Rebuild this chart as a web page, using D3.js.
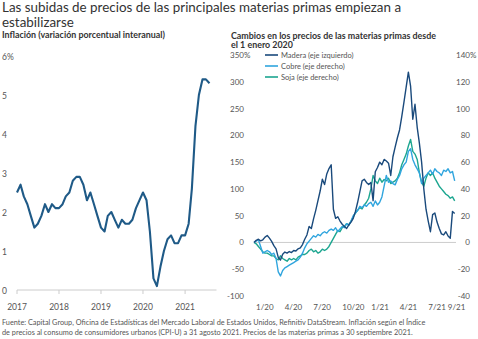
<!DOCTYPE html>
<html>
<head>
<meta charset="utf-8">
<script src="https://cdn.jsdelivr.net/npm/d3@7/dist/d3.min.js"></script>
<style>
    body { margin: 0; background: #fff; }
    svg { display: block; font-family: Lato, "Open Sans", sans-serif; }
</style>
</head>
<body>
<svg id="canvas" width="478" height="339"></svg>
<script>
// US CPI-U, year-over-year %, monthly from Jan 2017
var inflationStart = new Date(2017, 0, 1);
var inflation = [
    2.5, 2.7, 2.4, 2.2, 1.9, 1.6, 1.7, 1.9, 2.2, 2.0, 2.2, 2.1,
    2.1, 2.2, 2.4, 2.5, 2.8, 2.9, 2.9, 2.7, 2.3, 2.5, 2.2, 1.9,
    1.6, 1.5, 1.9, 2.0, 1.8, 1.6, 1.8, 1.7, 1.7, 1.8, 2.1, 2.3,
    2.5, 2.3, 1.5, 0.3, 0.1, 0.6, 1.0, 1.3, 1.4, 1.2, 1.2, 1.4,
    1.4, 1.7, 2.6, 4.2, 5.0, 5.4, 5.4, 5.3
];
var inflationTicks = [0, 1, 2, 3, 4, 5, 6];
var inflationYears = [2017, 2018, 2019, 2020, 2021];

// commodity price change since 1 Jan 2020, %, weekly
var weekStart = new Date(2020, 0, 1);
var madera = [
    0, 4, 6, 3, 5, 10, 13, 8, 2, -6, -12, -28, -33,
    -22, -18, -20, -17, -19, -15, -16, -12, -10, -4, 6, 14, 30,
    26, 44, 60, 78, 96, 118, 108, 128, 138, 145, 62, 45, 48,
    40, 34, 30, 26, 33, 38, 45, 58, 75, 95, 115, 118, 112,
    108, 112, 78, 132, 140, 150, 145, 155, 152, 148, 125, 160, 178,
    195, 210, 235, 262, 290, 318, 292, 230, 258, 215, 185, 150, 100,
    62, 40, 20, 52, 55, 38, 26, 16, 14, 20, 12, 8, 58, 54
];
var cobre = [
    0, 1, 2, -3, -8, -7, -6, -7, -9, -8, -12, -22, -25,
    -21, -19, -18, -17, -16, -15, -14, -13, -11, -8, -4, -1, 1,
    3, 5, 4, 6, 5, 7, 8, 7, 9, 10, 9, 11, 8,
    10, 12, 11, 14, 13, 16, 20, 22, 24, 27, 26, 28, 27,
    29, 30, 27, 31, 28, 30, 34, 42, 50, 45, 46, 44, 43,
    47, 50, 55, 58, 60, 68, 70, 62, 58, 55, 52, 44, 48,
    50, 52, 54, 51, 55, 53, 52, 50, 54, 53, 55, 52, 53, 46
];
var soja = [
    0, -1, -3, -5, -7, -8, -8, -9, -10, -10, -12, -13, -10,
    -12, -13, -14, -12, -13, -12, -13, -11, -10, -9, -9, -8, -6,
    -5, -7, -6, -8, -7, -5, -6, -5, -3, 0, 3, 6, 9,
    8, 11, 12, 14, 13, 16, 19, 22, 24, 26, 25, 28, 30,
    33, 40, 50, 46, 44, 48, 45, 47, 46, 48, 44, 45, 46,
    48, 52, 58, 62, 66, 72, 77, 68, 66, 62, 52, 45, 42,
    48, 52, 50, 52, 48, 45, 42, 40, 38, 36, 35, 33, 34, 31
];
var seriesNames = ['Madera (eje izquierdo)', 'Cobre (eje derecho)', 'Soja (eje derecho)'];
var leftTicks = [-100, -50, 0, 50, 100, 150, 200, 250, 300, 350];
var rightTicks = [-40, -20, 0, 20, 40, 60, 80, 100, 120, 140];
var monthTicks = [[2020, 0], [2020, 3], [2020, 6], [2020, 9], [2021, 0], [2021, 3], [2021, 6], [2021, 8]];
var monthLabels = ['1/20', '4/20', '7/20', '10/20', '1/21', '4/21', '7/21', '9/21'];

var colors = ['#1a4a7c', '#30a5de', '#1ca690'];
var textColor = '#333';
var axisColor = '#555';

var canvas = d3.select('#canvas');

function drawTitles() {
    var t = canvas.append('g').attr('fill', textColor);
    t.append('text').attr('x', 2).attr('y', 12).attr('font-size', 13.4)
        .text('Las subidas de precios de las principales materias primas empiezan a');
    t.append('text').attr('x', 2).attr('y', 27).attr('font-size', 13.4)
        .text('estabilizarse');
    t.append('text').attr('x', 2).attr('y', 37.5).attr('font-size', 8.9).attr('font-weight', 700)
        .text('Inflación (variación porcentual interanual)');
    t.append('text').attr('x', 231).attr('y', 38.5).attr('font-size', 8.9).attr('font-weight', 700)
        .text('Cambios en los precios de las materias primas desde');
    t.append('text').attr('x', 231).attr('y', 48).attr('font-size', 8.9).attr('font-weight', 700)
        .text('el 1 enero 2020');

    var foot = canvas.append('g').attr('fill', '#555').attr('font-size', 7.3);
    foot.append('text').attr('x', 2).attr('y', 325)
        .text('Fuente: Capital Group, Oficina de Estadísticas del Mercado Laboral de Estados Unidos, Refinitiv DataStream. Inflación según el Índice');
    foot.append('text').attr('x', 2).attr('y', 335)
        .text('de precios al consumo de consumidores urbanos (CPI-U) a 31 agosto 2021. Precios de las materias primas a 30 septiembre 2021.');
}

function drawInflation() {
    var x = d3.scaleTime()
        .domain([new Date(2017, 0, 1), new Date(2021, 9, 1)])
        .range([17, 216.5]);
    var y = d3.scaleLinear().domain([0, 6]).range([290, 56]);

    var g = canvas.append('g');

    g.append('line')
        .attr('x1', x.range()[0]).attr('x2', x.range()[1])
        .attr('y1', y(0)).attr('y2', y(0))
        .attr('stroke', '#ccc').attr('stroke-width', 1);

    g.selectAll('.tick')
        .data(inflationYears)
        .enter()
        .append('line')
        .attr('x1', function(d) { return x(new Date(d, 0, 1)); })
        .attr('x2', function(d) { return x(new Date(d, 0, 1)); })
        .attr('y1', y(0)).attr('y2', y(0) + 4)
        .attr('stroke', '#ccc');

    g.selectAll('.year')
        .data(inflationYears)
        .enter()
        .append('text')
        .attr('x', function(d) { return x(new Date(d, 0, 1)); })
        .attr('y', 310)
        .attr('text-anchor', 'middle')
        .attr('font-size', 8.5)
        .attr('fill', axisColor)
        .text(function(d) { return d; });

    g.selectAll('.ylab')
        .data(inflationTicks)
        .enter()
        .append('text')
        .attr('x', 2)
        .attr('y', function(d) { return y(d) + 4; })
        .attr('font-size', 8.5)
        .attr('fill', axisColor)
        .text(function(d, i) { return i === inflationTicks.length - 1 ? d + '%' : d; });

    var line = d3.line()
        .x(function(d, i) { return x(d3.timeMonth.offset(inflationStart, i)); })
        .y(function(d) { return y(d); });

    g.append('path')
        .datum(inflation)
        .attr('d', line)
        .attr('fill', 'none')
        .attr('stroke', '#1f5a87')
        .attr('stroke-width', 2.1)
        .attr('stroke-linejoin', 'round');
}

function drawCommodities() {
    var x = d3.scaleTime()
        .domain([new Date(2020, 0, 1), new Date(2021, 8, 30)])
        .range([254, 455]);
    var yLeft = d3.scaleLinear().domain([-100, 350]).range([296, 55]);
    var yRight = d3.scaleLinear().domain([-40, 140]).range([296, 55]);

    var g = canvas.append('g');

    g.append('line')
        .attr('x1', 255).attr('x2', 456)
        .attr('y1', yLeft(0)).attr('y2', yLeft(0))
        .attr('stroke', '#ccc');

    // left axis: numbers right-aligned, % hangs outside
    g.selectAll('.lt')
        .data(leftTicks)
        .enter()
        .append('text')
        .attr('x', 244)
        .attr('y', function(d) { return yLeft(d) + 3; })
        .attr('text-anchor', 'end')
        .attr('font-size', 8)
        .attr('fill', axisColor)
        .text(function(d) { return d; });
    g.append('text')
        .attr('x', 244).attr('y', yLeft(leftTicks[leftTicks.length - 1]) + 3)
        .attr('font-size', 8).attr('fill', axisColor).text('%');

    g.selectAll('.rt')
        .data(rightTicks)
        .enter()
        .append('text')
        .attr('x', 470)
        .attr('y', function(d) { return yRight(d) + 3; })
        .attr('text-anchor', 'end')
        .attr('font-size', 8)
        .attr('fill', axisColor)
        .text(function(d) { return d; });
    g.append('text')
        .attr('x', 470).attr('y', yRight(rightTicks[rightTicks.length - 1]) + 3)
        .attr('font-size', 8).attr('fill', axisColor).text('%');

    g.selectAll('.mt')
        .data(monthTicks)
        .enter()
        .append('text')
        .attr('x', function(d) { return x(new Date(d[0], d[1], 1)) + 2; })
        .attr('y', 310)
        .attr('font-size', 8)
        .attr('fill', axisColor)
        .text(function(d, i) { return monthLabels[i]; });

    function weekLine(scale) {
        return d3.line()
            .x(function(d, i) { return x(d3.timeDay.offset(weekStart, 7 * i)); })
            .y(function(d) { return scale(d); });
    }

    var series = [
        { values: soja, scale: yRight, color: colors[2] },
        { values: cobre, scale: yRight, color: colors[1] },
        { values: madera, scale: yLeft, color: colors[0] }
    ];

    g.selectAll('.series')
        .data(series)
        .enter()
        .append('path')
        .attr('d', function(d) { return weekLine(d.scale)(d.values); })
        .attr('fill', 'none')
        .attr('stroke', function(d) { return d.color; })
        .attr('stroke-width', 1.4)
        .attr('stroke-linejoin', 'round');

    var legend = g.selectAll('.legend')
        .data(seriesNames)
        .enter()
        .append('g')
        .attr('transform', function(d, i) { return 'translate(265,' + (55 + 11 * i) + ')'; });
    legend.append('line')
        .attr('x1', 0).attr('x2', 13)
        .attr('stroke', function(d, i) { return colors[i]; })
        .attr('stroke-width', 1.6);
    legend.append('text')
        .attr('x', 16).attr('y', 2.8)
        .attr('font-size', 7.5)
        .attr('fill', axisColor)
        .text(function(d) { return d; });
}

drawTitles();
drawInflation();
drawCommodities();
</script>
</body>
</html>
